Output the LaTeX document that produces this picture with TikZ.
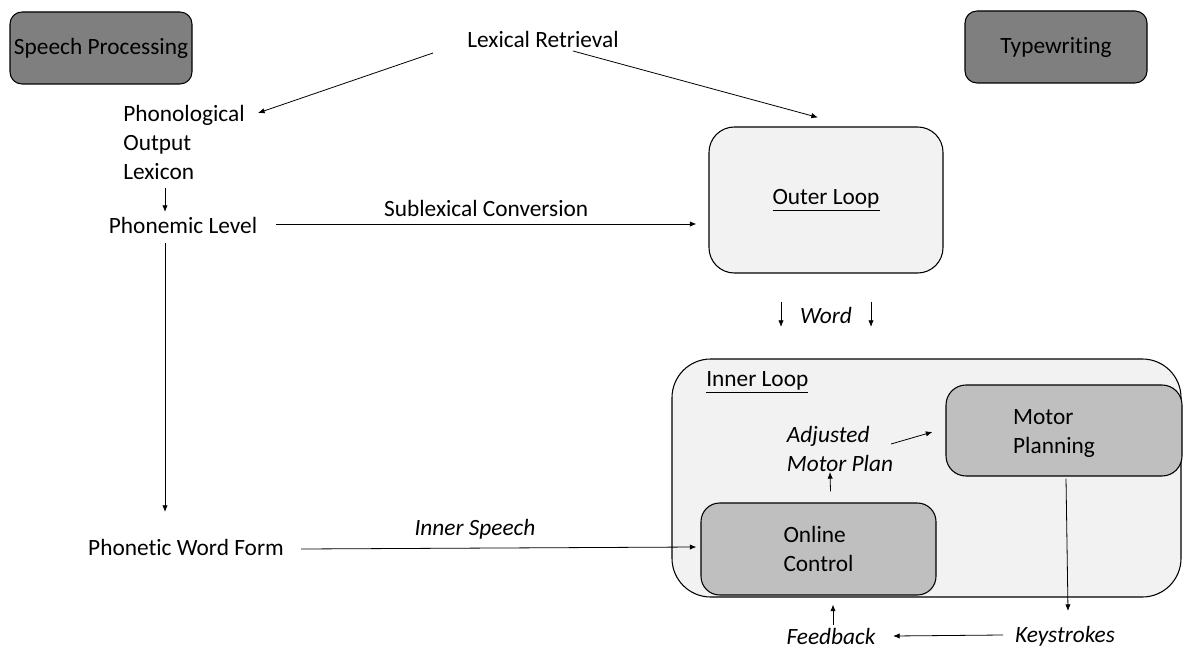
\documentclass[tikz,border=0pt]{standalone}
\usepackage{fontspec}
\setmainfont{Carlito}[Ligatures=NoCommon]
\usetikzlibrary{arrows.meta}
\definecolor{darkgray}{HTML}{7F7F7F}
\definecolor{midgray}{HTML}{BFBFBF}
\definecolor{lightgray}{HTML}{F2F2F2}
\begin{document}
\begin{tikzpicture}[x=0.75pt,y=-0.75pt,
  every node/.style={font=\fontsize{17.5}{21.75}\selectfont, inner sep=0pt},
  box/.style={draw=black, line width=0.8pt, rounded corners=#1},
  txt/.style={align=left},
  itxt/.style={align=left, font=\fontsize{17.5}{21.75}\selectfont\itshape},
  arr/.style={-{Latex[length=5pt,width=4pt]}, line width=0.6pt}]
\useasboundingbox (0,0) rectangle (1187,648);
\fill[white] (0,0) rectangle (1187,648);

% header boxes
\node[box=9pt, fill=darkgray, minimum width=136.5pt, minimum height=54pt] (sp) at (101,48) {Speech Processing};
\node[box=9pt, fill=darkgray, minimum width=136.5pt, minimum height=54pt] (tw) at (1056,47) {Typewriting};

% left column texts
\node[txt] (lex) at (543,39) {Lexical Retrieval};
\node[txt] (pol) at (184,142) {Phonological\\Output\\Lexicon};
\node[txt] (phonemic) at (183,225) {Phonemic Level};
\node[txt] (phonetic) at (186,547) {Phonetic Word Form};

% outer loop
\node[box=19pt, fill=lightgray, minimum width=175.5pt, minimum height=109.5pt] (outer) at (826,200) {\underline{Outer Loop}};

% word
\node[itxt] (word) at (826,315) {Word};

% inner loop
\node[box=29pt, fill=lightgray, minimum width=381.75pt, minimum height=178.5pt] (inner) at (926.5,478) {};
\node[txt, anchor=west] (innerlbl) at (706,382) {\underline{Inner Loop}};
\node[box=15pt, fill=midgray, minimum width=177pt, minimum height=68.25pt] (motor) at (1064,430.5) {};
\node[txt] (motorlbl) at (1054,434) {Motor\\Planning};
\node[box=14pt, fill=midgray, minimum width=176.25pt, minimum height=69pt, align=left] (online) at (818.5,549) {Online\\Control};
\node[itxt] (adj) at (840,449) {Adjusted\\Motor Plan};

% bottom labels
\node[itxt] (keys) at (1065,636) {Keystrokes};
\node[itxt] (fb) at (831,636) {Feedback};

% connectors
\draw[arr] ([shift={(-110,14)}]lex.center) -- ([shift={(13,-29)}]pol.east);
\draw[arr] ([shift={(30,12)}]lex.center) -- ([shift={(-8,-9)}]outer.north);
\draw[arr] ([shift={(-19,46)}]pol.center) -- ([shift={(-18,-13)}]phonemic.center);
\draw[arr] ([shift={(93,-1)}]phonemic.center) -- ([shift={(-12,24)}]outer.west)
  node[pos=0.5, above=5pt, font=\fontsize{17.5}{21.75}\selectfont] (sub) {Sublexical Conversion};
\draw[arr] ([shift={(-18,18)}]phonemic.center) -- ([shift={(-21,-35)}]phonetic.center);
\draw[arr] ([shift={(115,2)}]phonetic.center) -- ([shift={(-4,-2)}]online.west)
  node[pos=0.44, above=6pt, font=\fontsize{17.5}{21.75}\selectfont\itshape] (isp) {Inner Speech};
\draw[arr] ([shift={(-45,-13)}]word.center) -- ([shift={(-45,12)}]word.center);
\draw[arr] ([shift={(45,-13)}]word.center) -- ([shift={(45,12)}]word.center);
\draw[arr] ([shift={(12,-11)}]online.north) -- ([shift={(-10,23)}]adj.center);
\draw[arr] ([shift={(51,-5)}]adj.center) -- ([shift={(-13,1.5)}]motor.west);
\draw[arr] ([shift={(2,2)}]motor.south) -- ([shift={(3,-25)}]keys.center);
\draw[arr] ([shift={(-62,-1)}]keys.center) -- ([shift={(62,0)}]fb.center);
\draw[arr] ([shift={(2,-11)}]fb.center) -- ([shift={(14.5,9)}]online.south);
\end{tikzpicture}
\end{document}
